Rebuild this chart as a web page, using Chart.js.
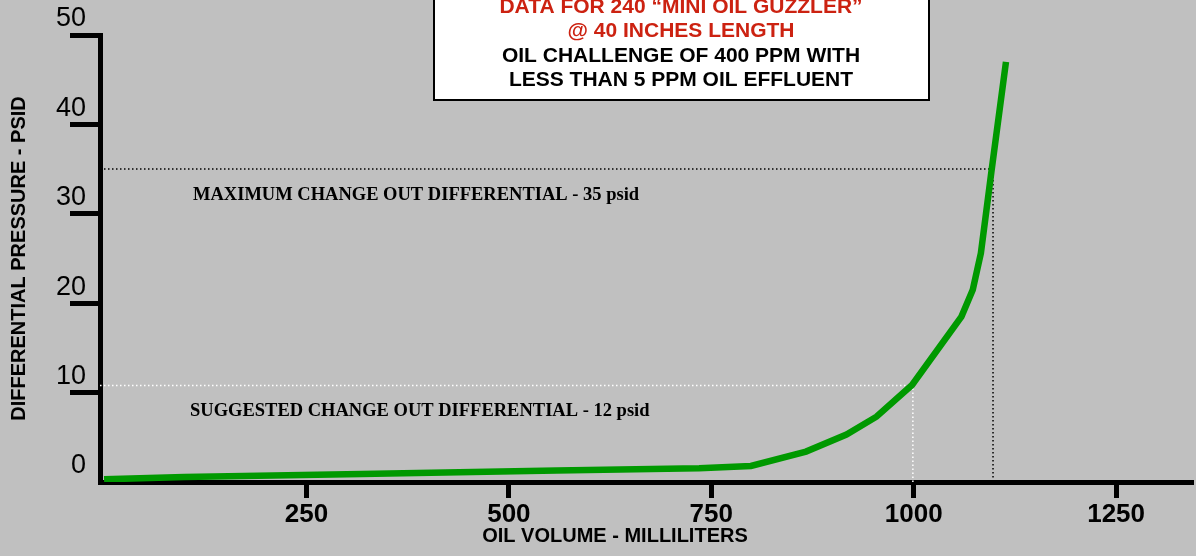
<!DOCTYPE html>
<html>
<head>
<meta charset="utf-8">
<script src="https://cdn.jsdelivr.net/npm/chart.js@4"></script>
<style>
  html, body { margin: 0; padding: 0; background: #c0c0c0; }
  #wrap { width: 1196px; height: 556px; }
</style>
</head>
<body>
<div id="wrap"><canvas id="oilChart" width="1196" height="556"></canvas></div>
<script>
// Oil volume (ml) vs differential pressure (psid)
const volume   = [0, 99, 318, 559, 735, 799, 867, 917, 954, 998, 1059, 1073, 1083, 1096, 1114];
const pressure = [0.3, 0.55, 0.9, 1.3, 1.55, 1.8, 3.4, 5.3, 7.3, 10.85, 18.5, 21.5, 25.6, 34.7, 47];

const xTicks = [250, 500, 750, 1000, 1250];
const yTicks = [0, 10, 20, 30, 40, 50];

// change-out markers: [volume, pressure]
const maxChange = [1098, 35];
const suggestedChange = [999, 10.8];

const titleLines = ['DATA FOR 240 \u201CMINI OIL GUZZLER\u201D', '@ 40 INCHES LENGTH',
                    'OIL CHALLENGE OF 400 PPM WITH', 'LESS THAN 5 PPM OIL EFFLUENT'];

const curve = volume.map((v, i) => ({ x: v, y: pressure[i] }));
const maxLine = [{ x: -5, y: maxChange[1] }, { x: maxChange[0], y: maxChange[1] }, { x: maxChange[0], y: 0 }];
const sugLine = [{ x: -5, y: suggestedChange[1] }, { x: suggestedChange[0], y: suggestedChange[1] }, { x: suggestedChange[0], y: 0 }];

const extras = {
    id: 'extras',
    afterDraw(chart) {
        const c = chart.ctx;
        c.save();
        // title box
        c.fillStyle = '#ffffff';
        c.fillRect(433, -5, 497, 105);
        c.strokeStyle = '#000';
        c.lineWidth = 2;
        c.strokeRect(434, -5, 495, 105);
        c.font = 'bold 21px "Liberation Sans", Arial, sans-serif';
        c.textAlign = 'center';
        c.textBaseline = 'middle';
        titleLines.forEach((t, i) => {
            c.fillStyle = i < 2 ? '#cc2211' : '#000';
            c.fillText(t, 681, 7 + i * 24.5);
        });
        // reference labels
        c.fillStyle = '#000';
        c.textAlign = 'left';
        c.font = 'bold 18.5px "Liberation Serif", "Times New Roman", serif';
        c.fillText('MAXIMUM CHANGE OUT DIFFERENTIAL - 35 psid', 193, 195);
        c.fillText('SUGGESTED CHANGE OUT DIFFERENTIAL - 12 psid', 190, 411);
        // x title
        c.textAlign = 'center';
        c.font = 'bold 20px "Liberation Sans", Arial, sans-serif';
        c.fillText('OIL VOLUME - MILLILITERS', 615, 536);
        c.restore();
    }
};

new Chart(document.getElementById('oilChart'), {
    type: 'line',
    data: {
        datasets: [
            {
                data: curve,
                borderColor: '#009900',
                borderWidth: 6.5,
                pointRadius: 0,
                tension: 0,
                borderCapStyle: 'butt'
            },
            {
                data: maxLine,
                borderColor: '#000',
                borderWidth: 1.5,
                borderDash: [1.5, 2.5],
                pointRadius: 0
            },
            {
                data: sugLine,
                borderColor: '#ffffff',
                borderWidth: 1.5,
                borderDash: [1.5, 2.5],
                pointRadius: 0
            }
        ]
    },
    options: {
        responsive: false,
        animation: false,
        layout: { padding: { top: 35, right: 3, left: 0, bottom: 0 } },
        plugins: { legend: { display: false }, tooltip: { enabled: false } },
        scales: {
            x: {
                type: 'linear',
                min: -5,
                max: 1345,
                afterBuildTicks: s => { s.ticks = xTicks.map(v => ({ value: v })); },
                afterFit: s => { s.height = 74; },
                border: { display: true, color: '#000', width: 5 },
                grid: { drawOnChartArea: false, tickLength: 16, tickWidth: 5, tickColor: '#000' },
                ticks: {
                    padding: 1,
                    color: '#000',
                    callback: v => String(v),
                    font: { family: '"Liberation Sans", Arial, sans-serif', size: 26, weight: 'bold' }
                }
            },
            y: {
                min: 0,
                max: 50,
                afterBuildTicks: s => { s.ticks = yTicks.map(v => ({ value: v })); },
                afterFit: s => { s.width = 100; },
                border: { display: true, color: '#000', width: 5 },
                grid: {
                    drawOnChartArea: false,
                    tickLength: 30,
                    tickWidth: 5,
                    tickColor: ctx => ctx.tick && ctx.tick.value === 0 ? 'rgba(0,0,0,0)' : '#000'
                },
                ticks: {
                    padding: -16,
                    labelOffset: -16,
                    color: '#000',
                    callback: v => String(v),
                    font: { family: '"Liberation Sans", Arial, sans-serif', size: 27 }
                },
                title: {
                    display: true,
                    text: 'DIFFERENTIAL PRESSURE - PSID',
                    color: '#000',
                    padding: { top: 7, bottom: 0 },
                    font: { family: '"Liberation Sans", Arial, sans-serif', size: 20, weight: 'bold' }
                }
            }
        }
    },
    plugins: [extras]
});
</script>
</body>
</html>
